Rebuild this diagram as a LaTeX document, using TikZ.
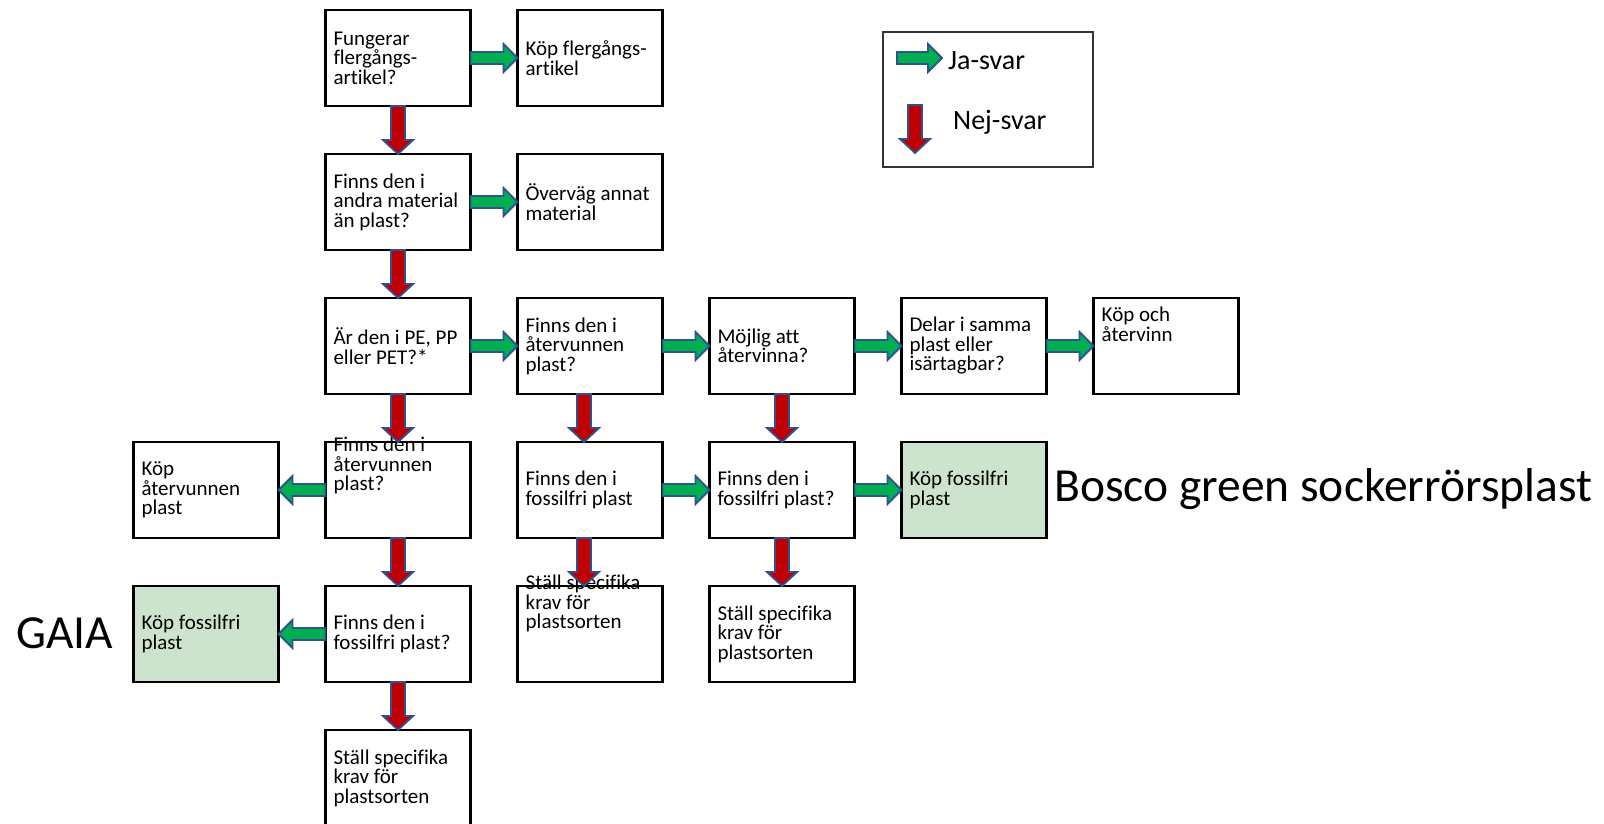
\documentclass[tikz,border=0pt]{standalone}
\usepackage{fontspec}
\setmainfont{Carlito}[Ligatures=NoCommon]
\usetikzlibrary{positioning, calc}

\definecolor{jagreen}{RGB}{0,176,80}
\definecolor{nejred}{RGB}{192,0,0}
\definecolor{pilblue}{RGB}{47,82,143}
\definecolor{boxgreen}{RGB}{206,227,205}

\newcommand{\boxfont}{\fontsize{21}{19.5}\selectfont\lineskiplimit=-20pt\spaceskip=0pt\xspaceskip=0pt}

% green arrow, horizontal, from #1 to #2
\newcommand{\japil}[2]{%
  \filldraw[japil] let \p1=(#1), \p2=(#2), \n1={ifthenelse(\x2>\x1,1,-1)} in
    (\x1,\y1+6pt) -- (\x2-\n1*14pt,\y1+6pt) -- (\x2-\n1*14pt,\y1+14pt) -- (\x2,\y1)
    -- (\x2-\n1*14pt,\y1-14pt) -- (\x2-\n1*14pt,\y1-6pt) -- (\x1,\y1-6pt) -- cycle;}
% red arrow, down, from #1 to #2
\newcommand{\nejpil}[2]{%
  \filldraw[nejpil] let \p1=(#1), \p2=(#2) in
    (\x1-7pt,\y1) -- (\x1-7pt,\y2+14pt) -- (\x1-15pt,\y2+14pt) -- (\x1,\y2)
    -- (\x1+15pt,\y2+14pt) -- (\x1+7pt,\y2+14pt) -- (\x1+7pt,\y1) -- cycle;}

\begin{document}
\begin{tikzpicture}[
						x=1pt, y=-1pt,
						node distance={48pt and 47pt},
						box/.style = {draw, rectangle, line width=2.4pt, outer sep=0pt, minimum height=96pt, text width=129pt, inner xsep=8pt, inner ysep=0pt, align=left, font=\boxfont, execute at begin node={\spaceskip=0pt\xspaceskip=0pt}},
						gbox/.style = {box, fill=boxgreen},
						boxtext/.style = {inner sep=0pt, align=left, font=\boxfont, execute at begin node={\spaceskip=0pt\xspaceskip=0pt}},
						legtext/.style = {inner sep=0pt, font=\fontsize{28}{32}\selectfont},
						bigtext/.style = {inner sep=0pt, font=\fontsize{47.5}{52}\selectfont},
						japil/.style = {fill=jagreen, draw=pilblue, line width=1.8pt},
						nejpil/.style = {fill=nejred, draw=pilblue, line width=1.8pt}
					]
\useasboundingbox (0,0) rectangle (1604,824);

\node[box] (A1) at (398,58) {Fungerar\\flergångs-\\artikel?};
\node[box] (B1) [right=of A1] {Köp flergångs-\\artikel};
\node[box] (A2) [below=of A1] {Finns den i\\andra material\\än plast?};
\node[box] (B2) [right=of A2] {Överväg annat\\material};
\node[box] (A3) [below=of A2] {Är den i PE, PP\\eller PET?*};
\node[box] (B3) [right=of A3] {Finns den i\\återvunnen\\plast?};
\node[box] (C3) [right=of B3] {Möjlig att\\återvinna?};
\node[box] (D3) [right=of C3] {Delar i samma\\plast eller\\isärtagbar?};
\node[box] (E3) [right=of D3] {};
\node[box] (A4) [below=of A3] {};
\node[box] (L4) [left=of A4] {Köp\\återvunnen\\plast};
\node[box] (B4) [below=of B3] {Finns den i\\fossilfri plast};
\node[box] (C4) [below=of C3] {Finns den i\\fossilfri plast?};
\node[gbox] (D4) [below=of D3] {Köp fossilfri\\plast};
\node[box] (A5) [below=of A4] {Finns den i\\fossilfri plast?};
\node[gbox] (L5) [left=of A5] {Köp fossilfri\\plast};
\node[box] (B5) [below=of B4] {};
\node[box] (C5) [below=of C4] {Ställ specifika\\krav för\\plastsorten};
\node[box] (A6) [below=of A5] {Ställ specifika\\krav för\\plastsorten};

% texts set high in their boxes
\node[boxtext, anchor=north west] (E3t) at ([shift={(8,9)}]E3.north west) {Köp och\\återvinn};
\node[boxtext, anchor=north west] (A4t) at ([shift={(8,-5)}]A4.north west) {Finns den i\\återvunnen\\plast?};
\node[boxtext, anchor=north west] (B5t) at ([shift={(8,-11)}]B5.north west) {Ställ specifika\\krav för\\plastsorten};

\node[bigtext, anchor=base west] (gaia) at (16,648) {GAIA};
\node[bigtext, anchor=base west] (bosco) at (1054,501) {Bosco green sockerrörsplast};

% legend
\node[draw=black!80, line width=1.2pt, minimum width=210pt, minimum height=135pt] (legend) at (988,99.5) {};
\coordinate (jaS) at (897,58);
\coordinate (jaE) at (942,58);
\coordinate (nejS) at (915,105);
\coordinate (nejE) at (915,153);
\node[legtext, anchor=base west] (ja) at (948,70) {Ja-svar};
\node[legtext, anchor=base west] (nej) at (953,130) {Nej-svar};
\japil{jaS}{jaE};
\nejpil{nejS}{nejE};

\japil{A1.east}{B1.west};
\japil{A2.east}{B2.west};
\japil{A3.east}{B3.west};
\japil{B3.east}{C3.west};
\japil{C3.east}{D3.west};
\japil{D3.east}{E3.west};
\japil{A4.west}{L4.east};
\japil{B4.east}{C4.west};
\japil{C4.east}{D4.west};
\japil{A5.west}{L5.east};

\nejpil{A1.south}{A2.north};
\nejpil{A2.south}{A3.north};
\nejpil{A3.south}{A4.north};
\nejpil{A4.south}{A5.north};
\nejpil{A5.south}{A6.north};
\nejpil{[xshift=-6]B3.south}{[xshift=-6]B4.north};
\nejpil{[xshift=-6]B4.south}{[xshift=-6]B5.north};
\nejpil{C3.south}{C4.north};
\nejpil{C4.south}{C5.north};
\end{tikzpicture}
\end{document}
